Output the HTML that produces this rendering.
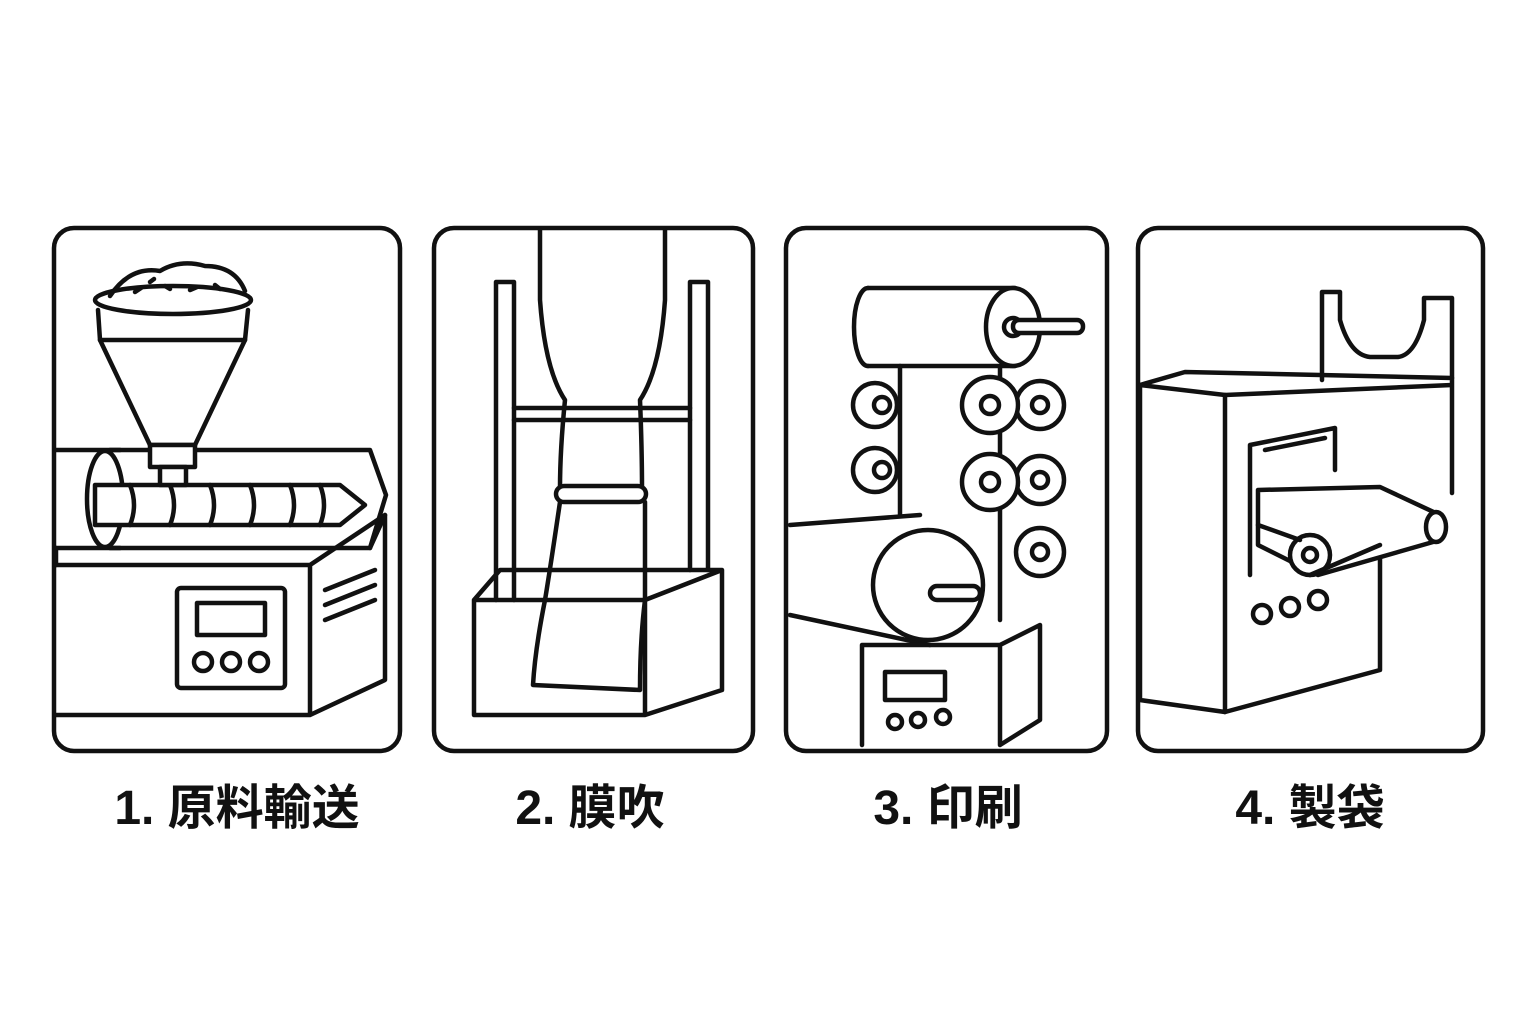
<!DOCTYPE html>
<html><head><meta charset="utf-8"><style>
html,body{margin:0;padding:0;background:#fff;}
body{width:1536px;height:1024px;position:relative;overflow:hidden;}
svg{position:absolute;left:0;top:0;}
.lbl{position:absolute;top:768px;font-family:"Liberation Sans","Noto Sans CJK JP",sans-serif;font-weight:bold;font-size:48px;color:#111;white-space:nowrap;transform:translateX(-50%);}
</style></head><body>
<svg width="1536" height="1024" viewBox="0 0 1536 1024" fill="none" stroke="#111" stroke-width="4.5" stroke-linejoin="round" stroke-linecap="round">
<!-- panels -->
<rect x="54" y="228" width="346" height="523" rx="20"/>
<rect x="434" y="228" width="319" height="523" rx="20"/>
<rect x="786" y="228" width="321" height="523" rx="20"/>
<rect x="1138" y="228" width="345" height="523" rx="20"/>

<!-- Panel 1 -->
<path d="M56 450 L120 450 M56 548 L120 548"/>
<path d="M110 450 L370 450 L386 495 L370 548 L110 548"/>
<ellipse cx="105" cy="499" rx="18" ry="48" fill="#fff"/>
<path d="M95 485 L340 485 L365 505 L340 525 L95 525 Z" fill="#fff"/>
<path d="M130 485 q8 20 0 40 M170 485 q8 20 0 40 M210 485 q8 20 0 40 M250 485 q8 20 0 40 M290 485 q8 20 0 40 M320 485 q8 20 0 40"/>
<path d="M98 310 L100 340 L245 340 L248 310"/>
<ellipse cx="173" cy="300" rx="78" ry="14" fill="#fff"/>
<path d="M110 296 q20 -30 50 -25 q20 -12 45 -5 q30 0 40 25" />
<path d="M135 292 l6 -4 M165 286 l5 3 M190 290 l7 -3 M215 285 l5 4 M150 282 l4 -3" />
<path d="M100 340 L150 445 L195 445 L245 340"/>
<rect x="150" y="445" width="45" height="22" fill="#fff"/>
<rect x="160" y="467" width="26" height="18" fill="#fff"/>
<path d="M56 565 L310 565 L310 715 L56 715 M310 565 L385 515 L385 680 L310 715"/>
<path d="M56 565 L56 548 M370 548 L385 515"/>
<rect x="177" y="588" width="108" height="100" rx="4"/>
<rect x="197" y="603" width="68" height="32"/>
<circle cx="203" cy="662" r="9"/><circle cx="231" cy="662" r="9"/><circle cx="259" cy="662" r="9"/>
<path d="M325 590 L375 570 M325 605 L375 585 M325 620 L375 600"/>

<!-- Panel 2 -->
<path d="M496 282 L514 282 L514 600 M496 282 L496 600 M690 282 L708 282 L708 570 M690 282 L690 570"/>
<path d="M514 408 L690 408 M514 420 L690 420"/>
<path d="M540 230 L540 300 Q545 370 565 400 Q560 450 560 488 M665 230 L665 300 Q660 370 640 400 Q642 450 642 488"/>
<rect x="556" y="486" width="90" height="16" rx="8" fill="#fff"/>
<path d="M474 600 L500 570 L722 570 L645 600 Z M474 600 L474 715 L645 715 L645 600 M645 715 L722 690 L722 570"/>
<path d="M560 502 Q550 570 545 600 Q535 650 533 685 L640 690 Q640 640 645 600 Q645 550 645 502"/>

<!-- Panel 3 -->
<path d="M868 288 L1015 288 M868 366 L1015 366"/>
<path d="M868 288 A14 39 0 0 0 868 366"/>
<ellipse cx="1013" cy="327" rx="27" ry="39" fill="#fff"/>
<circle cx="1013" cy="327" r="9"/>
<rect x="1013" y="320" width="70" height="13" rx="6" fill="#fff"/>
<path d="M900 366 L900 515 M1000 366 L1000 620"/>
<circle cx="875" cy="405" r="22"/><circle cx="882" cy="405" r="8"/>
<circle cx="875" cy="470" r="22"/><circle cx="882" cy="470" r="8"/>
<circle cx="1040" cy="405" r="24" fill="#fff"/><circle cx="1040" cy="405" r="8"/>
<circle cx="990" cy="405" r="28" fill="#fff"/><circle cx="990" cy="405" r="9"/>
<circle cx="1040" cy="480" r="24" fill="#fff"/><circle cx="1040" cy="480" r="8"/>
<circle cx="990" cy="482" r="28" fill="#fff"/><circle cx="990" cy="482" r="9"/>
<circle cx="1040" cy="552" r="24" fill="#fff"/><circle cx="1040" cy="552" r="8"/>
<path d="M790 525 L920 515 M790 615 L930 645"/>
<path d="M862 645 L862 745 M862 645 L1000 645 L1040 625 L1040 720 L1000 745 M1000 645 L1000 745"/>
<circle cx="928" cy="585" r="55" fill="#fff"/>
<rect x="930" y="586" width="50" height="14" rx="7" fill="#fff"/>
<rect x="885" y="672" width="60" height="28"/>
<circle cx="895" cy="722" r="7"/><circle cx="918" cy="720" r="7"/><circle cx="943" cy="717" r="7"/>

<!-- Panel 4 -->
<path d="M1322 380 L1322 292 L1340 292 L1340 320 Q1350 355 1370 357 L1398 357 Q1415 355 1424 320 L1424 298 L1452 298 L1452 378"/>
<path d="M1140 385 L1185 372 L1452 378 L1452 493 M1140 385 L1225 395 L1452 385"/>
<path d="M1140 385 L1140 700 L1225 712 L1225 395"/>
<path d="M1225 712 L1380 670 L1380 540"/>
<path d="M1250 445 L1335 428 L1335 470 M1250 445 L1250 575 M1265 450 L1325 438"/>
<path d="M1258 490 L1380 487 L1440 515 L1440 540 L1318 575 L1258 545 Z" fill="#fff"/>
<ellipse cx="1436" cy="527" rx="10" ry="15" fill="#fff"/>
<circle cx="1310" cy="555" r="20" fill="#fff"/><circle cx="1310" cy="555" r="7"/>
<path d="M1300 540 L1258 525 M1310 575 L1380 545"/>
<circle cx="1262" cy="614" r="9"/><circle cx="1290" cy="607" r="9"/><circle cx="1318" cy="600" r="9"/>
</svg>
<div class="lbl" style="left:237px">1. 原料輸送</div>
<div class="lbl" style="left:590px">2. 膜吹</div>
<div class="lbl" style="left:948px">3. 印刷</div>
<div class="lbl" style="left:1310px">4. 製袋</div>
</body></html>
